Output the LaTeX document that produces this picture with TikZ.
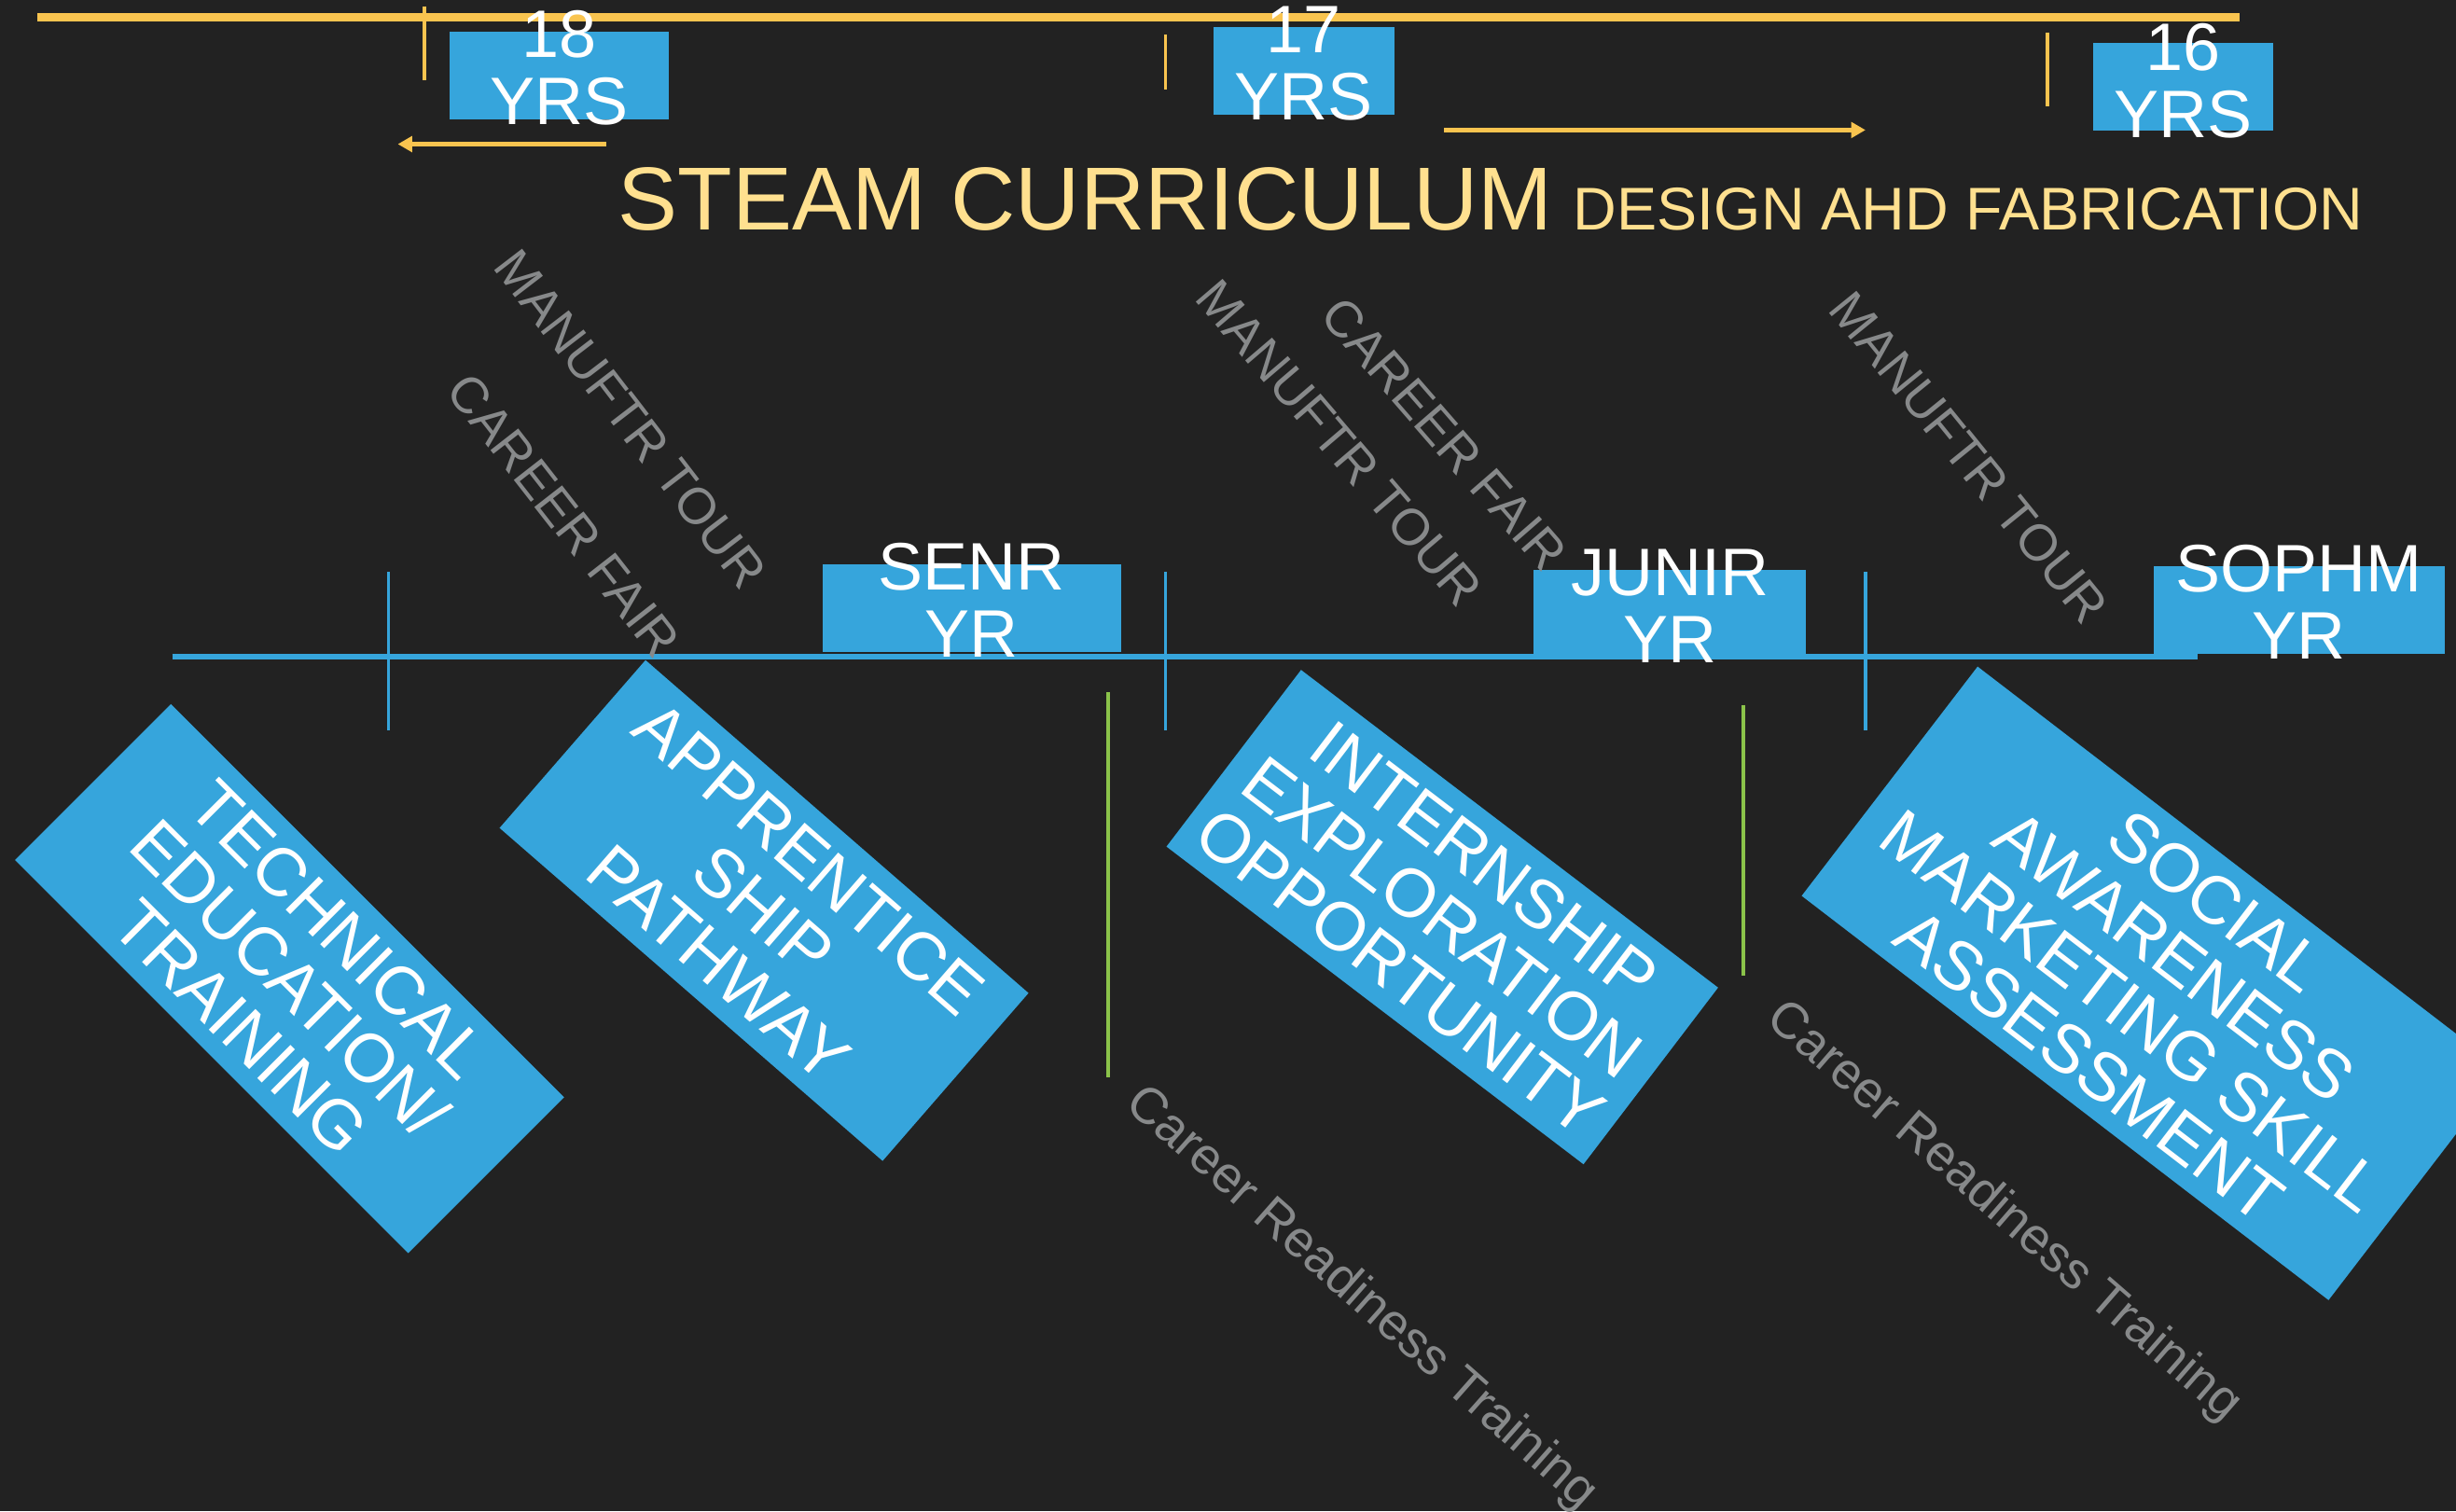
\documentclass[tikz,border=0pt]{standalone}
\usepackage{fontspec}
\setmainfont{Liberation Sans}
\usetikzlibrary{arrows.meta, positioning, calc}
\definecolor{slatebg}{RGB}{34,34,34}
\definecolor{steamblue}{RGB}{54,165,220}
\definecolor{goldline}{RGB}{249,196,79}
\definecolor{titlegold}{RGB}{255,224,143}
\definecolor{eventgray}{RGB}{135,137,138}
\definecolor{crtgreen}{RGB}{139,195,74}

\begin{document}
\begin{tikzpicture}[
        x=0.1mm, y=-0.1mm,
        yearbox/.style={rectangle, fill=steamblue, inner sep=0pt, minimum height=5.6mm},
        yeartext/.style={text=white, align=center, inner sep=0pt, font=\fontsize{12.2}{12.2}\selectfont},
        pathbox/.style={rectangle, fill=steamblue, inner sep=0pt, text=white, align=center, font=\fontsize{12.4}{12.6}\selectfont},
        event/.style={text=eventgray, inner sep=0pt, font=\fontsize{9.3}{10}\selectfont},
        goldrule/.style={draw=goldline, line width=1.45pt},
        goldtick/.style={draw=goldline, line width=0.6pt},
        goldarrow/.style={draw=goldline, line width=0.85pt, -{Triangle[length=2.6pt, width=2.8pt]}},
        bluetick/.style={draw=steamblue, line width=0.6pt},
        greentick/.style={draw=crtgreen, line width=0.6pt}
    ]
        \fill[slatebg] (0,0) rectangle (1568,965);
        \clip (0,0) rectangle (1568,965);

        \coordinate (rule-start) at (24,11);
        \coordinate (rule-end) at (1430,11);
        \draw[goldrule] (rule-start) -- (rule-end);
        \foreach \x/\a/\b in {271/4/51, 744/22/57, 1307/21/68}
            \draw[goldtick] (\x,\a) -- (\x,\b);

        \coordinate (older-from) at (387,92);
        \coordinate (older-to) at (254,92);
        \coordinate (younger-from) at (922,83);
        \coordinate (younger-to) at (1191,83);
        \draw[goldarrow] (older-from) -- (older-to);
        \draw[goldarrow] (younger-from) -- (younger-to);

        \node[yearbox, minimum width=13.95mm] (age18) at (357,48) {};
        \node[yeartext] (age18-text) at (357,43) {18\\YRS};
        \node[yearbox, minimum width=11.5mm] (age17) at (832.5,45) {};
        \node[yeartext] (age17-text) at (832.5,40.5) {17\\YRS};
        \node[yearbox, minimum width=11.5mm] (age16) at (1394,55.4) {};
        \node[yeartext] (age16-text) at (1394,51.5) {16\\YRS};

        \node[anchor=base west, inner sep=0pt, text=titlegold, font=\fontsize{16.25}{18}\selectfont] (title) at (394,147) {STEAM CURRICULUM};
        \node[anchor=base west, inner sep=0pt, text=titlegold, font=\fontsize{10.95}{12}\selectfont] (subtitle) at ($(title.base east)+(12,0)$) {DESIGN AHD FABRICATION};

        \node[pathbox, rotate=-45, minimum width=35.5mm, minimum height=14.07mm] (techbox) at (184.9,624.8) {TECHNICAL\\EDUCATION/\\TRAINING};
        \node[pathbox, rotate=-41, minimum width=32.4mm, minimum height=14.2mm] (apprbox) at (487.8,581.3) {APPRENTICE\\SHIP\\PATHWAY};
        \node[pathbox, rotate=-37.3, minimum width=33.47mm, minimum height=14.18mm] (internbox) at (920.8,585.5) {INTERNSHIP\\EXPLORATION\\OPPORTUNITY};
        \node[pathbox, rotate=-37.5, minimum width=42.4mm, minimum height=18.45mm] (socialbox) at (1374.6,627.8) {SOCIAL\\AWARENESS\\MARKETING SKILL\\ASSESSMENT};

        \coordinate (line-start) at (110,419);
        \coordinate (line-end) at (1403,419);
        \draw[draw=steamblue, line width=1pt] (line-start) -- (line-end);
        \foreach \x in {248,744,1191}
            \draw[bluetick] (\x,365) -- (\x,466);
        \draw[greentick] (707.5,442) -- (707.5,688);
        \draw[greentick] (1113,450) -- (1113,623);

        \node[yearbox, minimum width=19.1mm] (senr) at (620.5,388) {};
        \node[yeartext] (senr-text) at (620.5,383) {SENR\\YR};
        \node[yearbox, minimum width=17.4mm] (junir) at (1066,392) {};
        \node[yeartext] (junir-text) at (1066,387) {JUNIR\\YR};
        \node[yearbox, minimum width=18.6mm] (sophm) at (1468,389.5) {};
        \node[yeartext] (sophm-text) at (1467.5,384.5) {SOPHM\\YR};

        \node[event, rotate=-52.5] (tour-senr) at (402.5,267.5) {MANUFTR TOUR};
        \node[event, rotate=-52] (fair-senr) at (360,329) {CAREER FAIR};
        \node[event, rotate=-49.5] (tour-junir) at (855,283) {MANUFTR TOUR};
        \node[event, rotate=-49] (fair-junir) at (922,277) {CAREER FAIR};
        \node[event, rotate=-51] (tour-sophm) at (1257,292) {MANUFTR TOUR};
        \node[event, rotate=-41.5] (ready-senr) at (869,829) {Career Readiness Training};
        \node[event, rotate=-41] (ready-junir) at (1279,774) {Career Readiness Training};
    \end{tikzpicture}
\end{document}
